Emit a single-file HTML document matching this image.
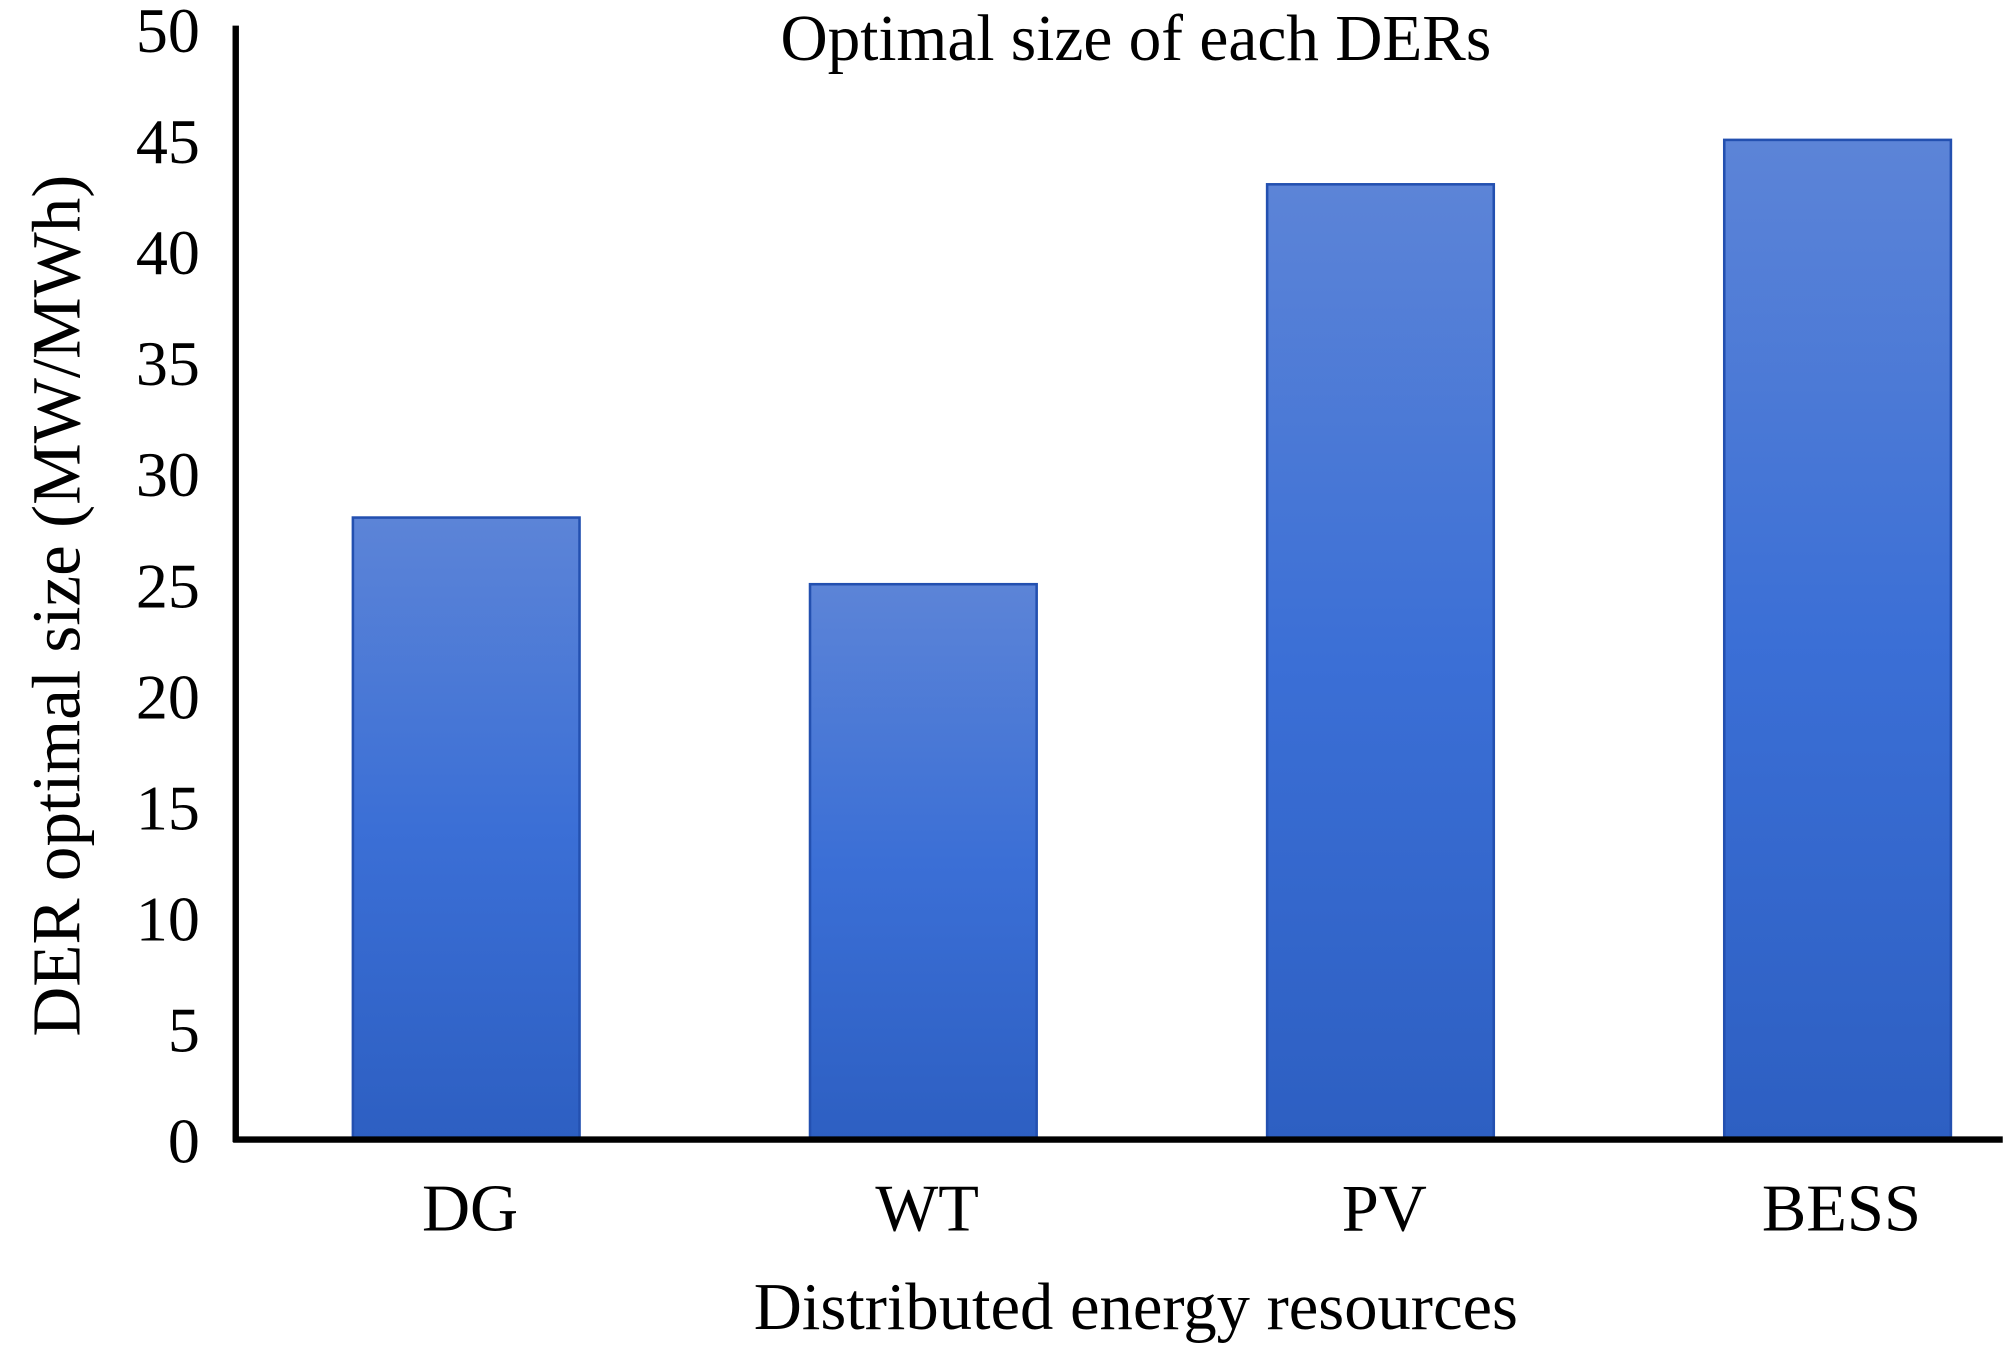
<!DOCTYPE html>
<html><head><meta charset="utf-8"><style>
html,body{margin:0;padding:0;background:#fff;}
svg{display:block;font-family:"Liberation Serif",serif;}
</style></head><body>
<svg id="chart" width="2008" height="1356" viewBox="0 0 1568 1059" xmlns="http://www.w3.org/2000/svg">
<defs>
<linearGradient id="g" x1="0" y1="0" x2="0" y2="1">
<stop offset="0" stop-color="#5c84d7"/>
<stop offset="0.5" stop-color="#3b6fd6"/>
<stop offset="1" stop-color="#2d5fc2"/>
</linearGradient>
</defs>
<g id="bars"></g>
<g id="yticks"></g>
<g id="xticks"></g>
<line x1="184" y1="20" x2="184" y2="892" stroke="#000" stroke-width="5"/>
<line x1="182" y1="890" x2="1564" y2="890" stroke="#000" stroke-width="5"/>
<text x="887" y="47" font-size="51" text-anchor="middle">Optimal size of each DERs</text>
<text x="887" y="1038" font-size="52" text-anchor="middle">Distributed energy resources</text>
<text transform="translate(62,473) rotate(-90)" font-size="54" text-anchor="middle">DER optimal size (MW/MWh)</text>
</svg>
<script>
const categories = ["DG","WT","PV","BESS"];
const values = [28,25,43,45];
const yTicks = [0,5,10,15,20,25,30,35,40,45,50];
const NS="http://www.w3.org/2000/svg";
const y0=890, perUnit=17.35;
function yScale(v){return y0-v*perUnit;}
function xCenter(i){return 364+i*357;}
const barW=177;
const gb=document.getElementById('bars');
values.forEach((v,i)=>{
  const r=document.createElementNS(NS,'rect');
  
  
  r.setAttribute('x',xCenter(i)-barW/2);
  r.setAttribute('y',yScale(v));
  r.setAttribute('width',barW);
  r.setAttribute('height',y0-yScale(v));
  r.setAttribute('fill','url(#g)');
  r.setAttribute('stroke','#2350b0');
  r.setAttribute('stroke-width','2');
  gb.appendChild(r);
});
const gy=document.getElementById('yticks');
yTicks.forEach(t=>{
  const tx=document.createElementNS(NS,'text');
  
  
  tx.setAttribute('x',156);
  tx.setAttribute('y',yScale(t)+18);
  tx.setAttribute('font-size','50');
  tx.setAttribute('text-anchor','end');
  tx.textContent=t;
  gy.appendChild(tx);
});
const gx=document.getElementById('xticks');
categories.forEach((c,i)=>{
  const tx=document.createElementNS(NS,'text');
  
  
  tx.setAttribute('x',xCenter(i)+3);
  tx.setAttribute('y',961);
  tx.setAttribute('font-size','52');
  tx.setAttribute('text-anchor','middle');
  tx.textContent=c;
  gx.appendChild(tx);
});
</script>
</body></html>
